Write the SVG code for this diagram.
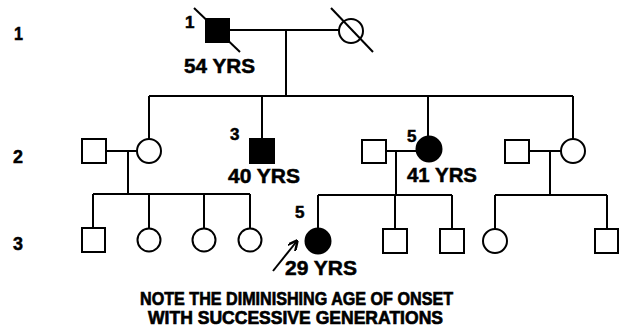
<svg xmlns="http://www.w3.org/2000/svg" width="619" height="333" viewBox="0 0 619 333">
<style>
.ln{stroke:#000;stroke-width:2;fill:none}
.o{stroke:#000;stroke-width:2;fill:#fff}
.f{stroke:#000;stroke-width:2;fill:#000}
text{font-family:"Liberation Sans",Arial,sans-serif;font-weight:bold;fill:#000;stroke:#000;stroke-width:0.5}
.gl{font-size:19px}
.lb{font-size:17px}
.age{font-size:20px}
.note{font-size:19px;stroke-width:0.7}
</style>
<defs>
<marker id="ah" viewBox="0 0 10 10" refX="9" refY="5" markerWidth="10" markerHeight="10" orient="auto" markerUnits="userSpaceOnUse">
<path d="M0,0 L10,5 L0,10" fill="none" stroke="#000" stroke-width="2.5"/>
</marker>
</defs>
<g id="generation-labels">
<text class="gl" x="14" y="40" textLength="9" lengthAdjust="spacingAndGlyphs">1</text>
<text class="gl" x="13" y="163" textLength="10" lengthAdjust="spacingAndGlyphs">2</text>
<text class="gl" x="13" y="250" textLength="10" lengthAdjust="spacingAndGlyphs">3</text>
</g>
<g id="connectors">
<path class="ln" d="M229,30 H339"/>
<path class="ln" d="M286,30 V96"/>
<path class="ln" d="M149,96 H573"/>
<path class="ln" d="M149,96 V139 M262,96 V139 M428,96 V136 M573,96 V139"/>
<path class="ln" d="M106,151 H137 M128,151 V194"/>
<path class="ln" d="M386,151 H416 M396,151 V195"/>
<path class="ln" d="M529,151 H561 M550,151 V195"/>
<path class="ln" d="M93,194 H250 M93,194 V228 M149,194 V229 M204,194 V229 M250,194 V229"/>
<path class="ln" d="M318,195 H452 M318,195 V229 M395,195 V229 M452,195 V229"/>
<path class="ln" d="M495,195 H607 M495,195 V229 M607,195 V229"/>
</g>
<g id="I-1">
<rect class="f" x="206" y="19" width="23" height="23"/>
<path class="ln" d="M194,8 L240,52"/>
<text class="lb" x="185" y="28">1</text>
<text class="age" x="184" y="73" textLength="71" lengthAdjust="spacingAndGlyphs">54 YRS</text>
</g>
<g id="I-2">
<circle class="o" cx="351" cy="31" r="12"/>
<path class="ln" d="M331,8 L373,52"/>
</g>
<g id="II-spouse-1"><rect class="o" x="82" y="139" width="24" height="24"/></g>
<g id="II-1"><circle class="o" cx="149" cy="151" r="12"/></g>
<g id="II-3">
<rect class="f" x="250" y="139" width="24" height="24"/>
<text class="lb" x="230" y="140">3</text>
<text class="age" x="228" y="183" textLength="72" lengthAdjust="spacingAndGlyphs">40 YRS</text>
</g>
<g id="II-spouse-5"><rect class="o" x="362" y="140" width="24" height="23"/></g>
<g id="II-5">
<circle class="f" cx="429" cy="149" r="12.5"/>
<text class="lb" x="407" y="142">5</text>
<text class="age" x="407" y="182" textLength="70" lengthAdjust="spacingAndGlyphs">41 YRS</text>
</g>
<g id="II-spouse-7"><rect class="o" x="505" y="140" width="24" height="23"/></g>
<g id="II-7"><circle class="o" cx="573" cy="151" r="12"/></g>
<g id="III-1"><rect class="o" x="82" y="228" width="23" height="24"/></g>
<g id="III-2"><circle class="o" cx="149" cy="240" r="11.5"/></g>
<g id="III-3"><circle class="o" cx="204" cy="240" r="11.5"/></g>
<g id="III-4"><circle class="o" cx="250" cy="240" r="11.5"/></g>
<g id="III-5">
<circle class="f" cx="318" cy="241" r="12.5"/>
<text class="lb" x="295" y="218">5</text>
<path class="ln" d="M273,271 L297,241" marker-end="url(#ah)"/>
<text class="age" x="285" y="275" textLength="72" lengthAdjust="spacingAndGlyphs">29 YRS</text>
</g>
<g id="III-6"><rect class="o" x="383" y="229" width="24" height="24"/></g>
<g id="III-7"><rect class="o" x="440" y="229" width="24" height="24"/></g>
<g id="III-8"><circle class="o" cx="495" cy="241" r="12"/></g>
<g id="III-9"><rect class="o" x="595" y="229" width="23" height="24"/></g>
<g id="note">
<text class="note" x="140" y="305" textLength="313" lengthAdjust="spacingAndGlyphs">NOTE THE DIMINISHING AGE OF ONSET</text>
<text class="note" x="148" y="324" textLength="295" lengthAdjust="spacingAndGlyphs">WITH SUCCESSIVE GENERATIONS</text>
</g>
</svg>
